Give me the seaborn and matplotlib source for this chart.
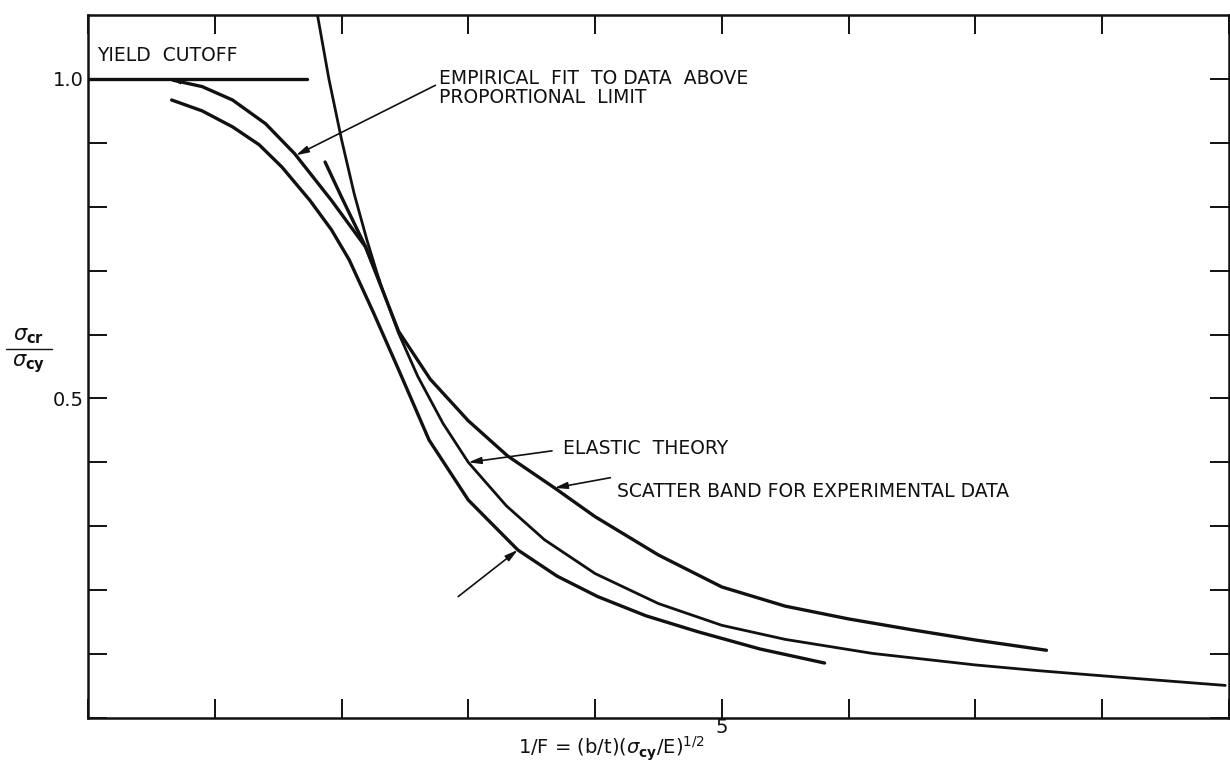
import numpy as np
import pandas as pd
import matplotlib
matplotlib.use("Agg")
import matplotlib.pyplot as plt
import seaborn as sns

# Plate buckling: critical stress ratio vs. slenderness parameter 1/F
yield_x = [0.0, 1.73]
yield_y = [1.0, 1.0]

elastic_x = [1.81, 1.9, 2.0, 2.1, 2.2, 2.3, 2.45, 2.6, 2.8, 3.0, 3.3, 3.6, 4.0, 4.5, 5.0, 5.5, 6.19, 7.0, 7.5, 8.19, 8.97]
elastic_y = [1.10, 1.0, 0.905, 0.82, 0.748, 0.683, 0.602, 0.535, 0.461, 0.40, 0.332, 0.279, 0.226, 0.179, 0.145, 0.123, 0.101, 0.083, 0.074, 0.063, 0.051]

empirical_x = [0.67, 0.9, 1.14, 1.4, 1.63, 1.92, 2.19, 2.3]
empirical_y = [0.998, 0.988, 0.967, 0.93, 0.883, 0.81, 0.737, 0.683]

upper_x = [1.87, 2.0, 2.19, 2.45, 2.7, 3.0, 3.31, 3.68, 4.0, 4.5, 5.0, 5.5, 6.0, 6.5, 7.0, 7.56]
upper_y = [0.87, 0.815, 0.737, 0.605, 0.53, 0.465, 0.41, 0.36, 0.315, 0.255, 0.205, 0.175, 0.155, 0.138, 0.122, 0.106]

lower_x = [0.66, 0.9, 1.14, 1.35, 1.53, 1.75, 1.92, 2.06, 2.25, 2.45, 2.69, 3.0, 3.39, 3.7, 4.02, 4.4, 4.81, 5.3, 5.81]
lower_y = [0.967, 0.95, 0.925, 0.897, 0.862, 0.81, 0.764, 0.717, 0.635, 0.545, 0.435, 0.341, 0.263, 0.222, 0.19, 0.16, 0.135, 0.108, 0.086]

x_ticks = list(range(0, 10))
x_ticklabels = ["", "", "", "", "", "5", "", "", "", ""]
y_ticks = [round(0.1 * i, 1) for i in range(0, 11)]
y_ticklabels = ["", "", "", "", "", "0.5", "", "", "", "", "1.0"]

sns.set_style("ticks")
plt.rcParams["font.family"] = ["DejaVu Sans"]

fig = plt.figure(figsize=(12.3, 7.72), dpi=100)
ax = fig.add_axes([88 / 1230, 54 / 772, 1 - 88 / 1230 - 0.0008, (718 - 15) / 772])

ink = "#111111"
curves = [
    (yield_x, yield_y, 2.4),
    (elastic_x, elastic_y, 2.0),
    (empirical_x, empirical_y, 2.4),
    (upper_x, upper_y, 2.4),
    (lower_x, lower_y, 2.4),
]
for cx, cy, lw in curves:
    df = pd.DataFrame({"x": cx, "y": cy})
    sns.lineplot(data=df, x="x", y="y", ax=ax, color=ink, linewidth=lw,
                 sort=False, estimator=None)

ax.set_xlim(0, 8.98)
ax.set_ylim(0, 1.1)
ax.set_xticks(x_ticks)
ax.set_xticklabels(x_ticklabels)
ax.set_yticks(y_ticks)
ax.set_yticklabels(y_ticklabels)
ax.tick_params(direction="in", length=14, width=1.4, colors=ink, labelsize=14,
               top=True, right=True)
ax.tick_params(axis="x", pad=0)
ax.tick_params(axis="y", pad=3)
for sp in ax.spines.values():
    sp.set_linewidth(1.8)
    sp.set_color(ink)
ax.set_xlabel("")
ax.set_ylabel("")

fs = 13.5
txt = dict(color=ink, fontsize=fs, family="DejaVu Sans")
ax.text(0.07, 1.022, "YIELD  CUTOFF", ha="left", va="bottom", **txt)
ax.text(2.77, 0.985, "EMPIRICAL  FIT  TO DATA  ABOVE\nPROPORTIONAL  LIMIT",
        ha="left", va="center", linespacing=1.0, **txt)
ax.text(3.75, 0.421, "ELASTIC  THEORY", ha="left", va="center", **txt)
ax.text(4.17, 0.354, "SCATTER BAND FOR EXPERIMENTAL DATA", ha="left", va="center", **txt)

arrow = dict(arrowstyle="-|>,head_length=0.75,head_width=0.2", color=ink, lw=1.2,
             shrinkA=0, shrinkB=0)
ax.annotate("", xy=(1.64, float(np.interp(1.64, empirical_x, empirical_y))),
            xytext=(2.74, 0.99), arrowprops=arrow)
ax.annotate("", xy=(3.0, float(np.interp(3.0, elastic_x, elastic_y))),
            xytext=(3.66, 0.418), arrowprops=arrow)
ax.annotate("", xy=(3.68, float(np.interp(3.68, upper_x, upper_y))),
            xytext=(4.12, 0.376), arrowprops=arrow)
ax.annotate("", xy=(3.39, float(np.interp(3.39, lower_x, lower_y))),
            xytext=(2.92, 0.19), arrowprops=arrow)
# small head where the empirical fit meets the yield cutoff
ax.annotate("", xy=(empirical_x[0], empirical_y[0]),
            xytext=(0.9, float(np.interp(0.9, empirical_x, empirical_y))),
            arrowprops=dict(arrowstyle="-|>,head_length=0.6,head_width=0.18",
                            color=ink, lw=0.1, shrinkA=0, shrinkB=0))

fig.text(29 / 1230, 1 - 346 / 772, r"$\sigma_{\mathbf{cr}}$", ha="center", va="bottom",
         fontsize=15, color=ink)
fig.text(29 / 1230, 1 - 352 / 772, r"$\sigma_{\mathbf{cy}}$", ha="center", va="top",
         fontsize=15, color=ink)
fig.add_artist(plt.Line2D([6 / 1230, 52 / 1230], [1 - 349 / 772, 1 - 349 / 772],
                          color=ink, lw=1.0))

fig.text(611 / 1230, 1 - 749 / 772,
         r"1/F = (b/t)($\sigma_{\mathbf{cy}}$/E)$^{1/2}$",
         ha="center", va="center", fontsize=14, color=ink)

fig.savefig("out.png", dpi=100)
